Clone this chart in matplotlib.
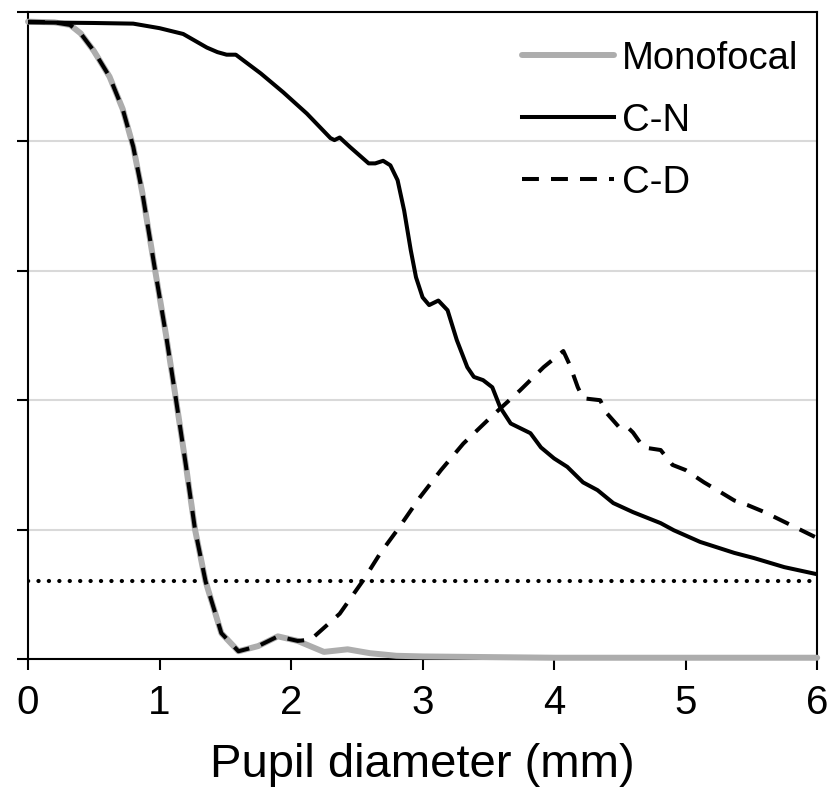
import matplotlib.pyplot as plt

plt.rcParams['font.family'] = ['Liberation Sans', 'DejaVu Sans']

# Monofocal
mono_x = [0, 0.2, 0.32, 0.4, 0.5, 0.62, 0.72, 0.8, 0.87, 0.967, 1.05, 1.126, 1.2, 1.27,
          1.35, 1.47, 1.6, 1.75, 1.9, 2.05, 2.25, 2.43, 2.6, 2.8, 3.0, 3.5, 4.0, 5.0, 6.0]
mono_y = [0.985, 0.984, 0.98, 0.967, 0.94, 0.90, 0.85, 0.792, 0.72, 0.60, 0.50, 0.40, 0.30, 0.20,
          0.12, 0.04, 0.012, 0.02, 0.035, 0.028, 0.011, 0.015, 0.009, 0.005, 0.004, 0.003, 0.002, 0.002, 0.002]

# C-N
cn_x = [0, 0.5, 0.8, 1.0, 1.18, 1.36, 1.44, 1.51, 1.58, 1.77, 1.94, 2.12, 2.30, 2.33, 2.37, 2.45,
        2.59, 2.64, 2.70, 2.755, 2.81, 2.86, 2.91, 2.95, 3.0, 3.05, 3.12, 3.19, 3.26, 3.34, 3.39,
        3.46, 3.53, 3.59, 3.67, 3.74, 3.82, 3.90, 4.0, 4.10, 4.22, 4.33, 4.45, 4.60, 4.81, 4.91,
        5.11, 5.37, 5.52, 5.75, 6.0]
cn_y = [0.984, 0.983, 0.982, 0.975, 0.966, 0.945, 0.938, 0.934, 0.934, 0.905, 0.876, 0.843, 0.805,
        0.802, 0.806, 0.791, 0.766, 0.766, 0.770, 0.763, 0.74, 0.693, 0.632, 0.59, 0.559, 0.547,
        0.554, 0.539, 0.493, 0.451, 0.436, 0.431, 0.42, 0.389, 0.364, 0.357, 0.349, 0.327, 0.31,
        0.297, 0.273, 0.261, 0.241, 0.227, 0.21, 0.199, 0.181, 0.164, 0.156, 0.142, 0.131]

# C-D
cd_x = [0, 0.2, 0.32, 0.4, 0.5, 0.62, 0.72, 0.8, 0.87, 0.967, 1.05, 1.126, 1.2, 1.27,
        1.35, 1.47, 1.6, 1.75, 1.9, 2.05, 2.15, 2.37, 2.55, 2.68, 2.81, 2.98, 3.14, 3.31, 3.52,
        3.74, 3.92, 4.07, 4.12, 4.18, 4.22, 4.35, 4.4, 4.5, 4.56, 4.6, 4.68, 4.81, 4.9, 5.0,
        5.14, 5.24, 5.37, 5.47, 5.6, 5.72, 5.85, 6.0]
cd_y = [0.985, 0.984, 0.98, 0.967, 0.94, 0.90, 0.85, 0.792, 0.72, 0.60, 0.50, 0.40, 0.30, 0.20,
        0.12, 0.04, 0.012, 0.02, 0.035, 0.028, 0.03, 0.07, 0.122, 0.164, 0.2, 0.25, 0.292, 0.333,
        0.374, 0.415, 0.451, 0.476, 0.454, 0.42, 0.403, 0.40, 0.38, 0.357, 0.358, 0.35, 0.327,
        0.323, 0.30, 0.292, 0.273, 0.261, 0.245, 0.238, 0.227, 0.215, 0.202, 0.187]

threshold = 0.12
x_ticks = [0, 1, 2, 3, 4, 5, 6]
y_ticks = [0, 0.2, 0.4, 0.6, 0.8, 1.0]

fig = plt.figure(figsize=(8.33, 7.99), dpi=100)
ax = fig.add_axes([0.0336, 0.1752, 0.9474, 0.8098])

ax.set_axisbelow(True)
ax.grid(axis='y', color='#d9d9d9', linewidth=1.5)

ax.axhline(threshold, color='black', linewidth=3.0, linestyle=(0, (0.05, 2.45)),
           dash_capstyle='round', zorder=2)
ax.plot(mono_x, mono_y, color='#adadad', linewidth=4.3, label='Monofocal',
        solid_capstyle='round', solid_joinstyle='round', clip_on=False, zorder=3)
ax.plot(cn_x, cn_y, color='black', linewidth=2.9, label='C-N',
        solid_joinstyle='round', zorder=4)
ax.plot(cd_x, cd_y, color='black', linewidth=2.9, linestyle=(0, (4.2, 3.0)),
        dash_joinstyle='round', label='C-D', zorder=5)

ax.set_xlim(0, 6)
ax.set_ylim(0, 1)
ax.set_xticks(x_ticks)
ax.set_yticks(y_ticks)
ax.set_yticklabels([])
ax.tick_params(axis='both', direction='out', length=8, width=1.5, color='black',
               labelsize=29, pad=10)
for s in ax.spines.values():
    s.set_linewidth(1.5)
    s.set_color('black')

ax.set_xlabel('Pupil diameter (mm)', fontsize=34, labelpad=15)

ax.legend(loc='upper right', bbox_to_anchor=(0.995, 0.979), frameon=False, fontsize=27.5,
          handlelength=2.41, handletextpad=0.21, labelspacing=0.68, borderaxespad=0)

fig.savefig('out.png', dpi=100)
